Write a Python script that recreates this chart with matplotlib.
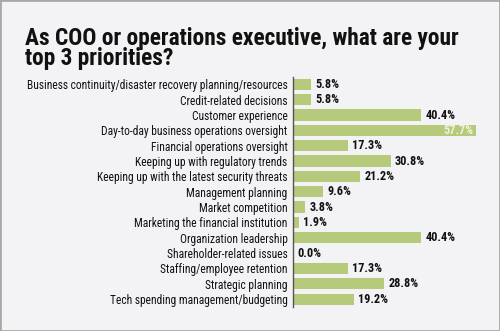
import matplotlib
matplotlib.use("Agg")
import matplotlib.pyplot as plt
from matplotlib.patches import Rectangle

categories = [
    "Business continuity/disaster recovery planning/resources",
    "Credit-related decisions",
    "Customer experience",
    "Day-to-day business operations oversight",
    "Financial operations oversight",
    "Keeping up with regulatory trends",
    "Keeping up with the latest security threats",
    "Management planning",
    "Market competition",
    "Marketing the financial institution",
    "Organization leadership",
    "Shareholder-related issues",
    "Staffing/employee retention",
    "Strategic planning",
    "Tech spending management/budgeting",
]
values = [5.8, 5.8, 40.4, 57.7, 17.3, 30.8, 21.2, 9.6, 3.8, 1.9, 40.4, 0.0, 17.3, 28.8, 19.2]
title = "As COO or operations executive, what are your\ntop 3 priorities?"

fam = ["Roboto Condensed", "DejaVu Sans"]
bg = "#f3f3f5"
bar_color = "#b5cb7b"

fig = plt.figure(figsize=(5.0, 3.31), dpi=100, facecolor=bg)
fig.patches.append(Rectangle((0, 0), 1, 1, transform=fig.transFigure, fill=False,
                             edgecolor="#a8a8a8", linewidth=2.0))

ax = fig.add_axes([0.586, 0.0734, 0.412, 0.695])
ax.set_facecolor(bg)
y = list(range(len(categories)))
ax.barh(y, values, height=0.72, color=bar_color)
ax.set_xlim(0, 65)
ax.set_ylim(len(categories) - 0.5, -0.5)
for s in ["top", "right", "bottom"]:
    ax.spines[s].set_visible(False)
ax.spines["left"].set_color("#555555")
ax.spines["left"].set_linewidth(1.0)
ax.set_xticks([])
ax.set_yticks(y)
ax.set_yticklabels(categories, family=fam, fontsize=8.3, color="#111111",
                   fontweight="normal")
ax.tick_params(axis="y", length=0, pad=4)

vmax = max(values)
for yi, v in zip(y, values):
    if v == vmax:
        ax.text(v - 0.8, yi, f"{v:.1f}%", va="center", ha="right", family=fam,
                fontsize=8.8, fontweight="bold", color="#eef0dc")
    else:
        ax.text(v + 1.3, yi, f"{v:.1f}%", va="center", ha="left", family=fam,
                fontsize=8.8, fontweight="bold", color="#111111")

fig.text(0.05, 0.918, title, family=fam, fontsize=16.8, fontweight="black",
         color="#111111", ha="left", va="top", linespacing=0.84)

fig.savefig("out.png", dpi=100, facecolor=bg)
